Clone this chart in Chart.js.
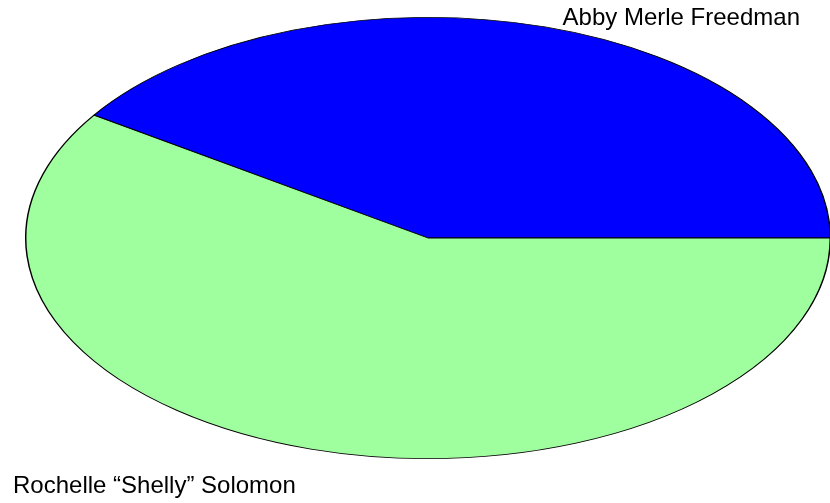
<!DOCTYPE html>
<html>
<head>
<meta charset="utf-8">
<script src="https://cdn.jsdelivr.net/npm/chart.js@4"></script>
<style>
	html, body { margin: 0; padding: 0; background: #fff; }
	#wrap { width: 830px; height: 503px; position: relative; }
</style>
</head>
<body>
<div id="wrap"><canvas id="pieChart"></canvas></div>
<script>
const names = ['Abby Merle Freedman', 'Rochelle “Shelly” Solomon']
const shares = [40.6, 59.4]
const colors = ['#0000ff', '#9ffe9d']

// ellipse stretch: horizontal radius / vertical radius
const stretchX = 403 / 221

// squash the round pie into the wide ellipse of the original
const ellipsePlugin = {
	id: 'ellipse',
	beforeDatasetsDraw(chart) {
		const arc = chart.getDatasetMeta(0).data[0]
		const ctx = chart.ctx
		ctx.save()
		ctx.translate(arc.x, arc.y)
		ctx.scale(stretchX, 1)
		ctx.translate(-arc.x, -arc.y)
	},
	afterDatasetsDraw(chart) {
		chart.ctx.restore()
	},
}

// slice names in the two corners
const cornerLabels = {
	id: 'cornerLabels',
	afterDraw(chart) {
		const ctx = chart.ctx
		ctx.save()
		ctx.fillStyle = '#000'
		ctx.font = '24px "Liberation Sans", Arial, sans-serif'
		ctx.textBaseline = 'alphabetic'
		ctx.textAlign = 'right'
		ctx.fillText(names[0], chart.width - 30, 25)
		ctx.textAlign = 'left'
		ctx.fillText(names[1], 13, chart.height - 10)
		ctx.restore()
	},
}

// first slice ends at 3 o'clock, going counter-clockwise from there
const firstSweep = shares[0] / 100 * 360

const ctx = document.getElementById('pieChart').getContext('2d')
new Chart(ctx, {
	type: 'pie',
	data: {
		labels: names,
		datasets: [
			{
				data: shares,
				backgroundColor: colors,
				borderColor: '#000',
				borderWidth: 0.8,
			},
		],
	},
	options: {
		responsive: true,
		maintainAspectRatio: false,
		animation: false,
		rotation: 90 - firstSweep,
		layout: {
			padding: { top: 17, bottom: 44, left: 207, right: 181 },
		},
		plugins: {
			legend: { display: false },
			tooltip: { enabled: false },
		},
	},
	plugins: [ellipsePlugin, cornerLabels],
})
</script>
</body>
</html>
